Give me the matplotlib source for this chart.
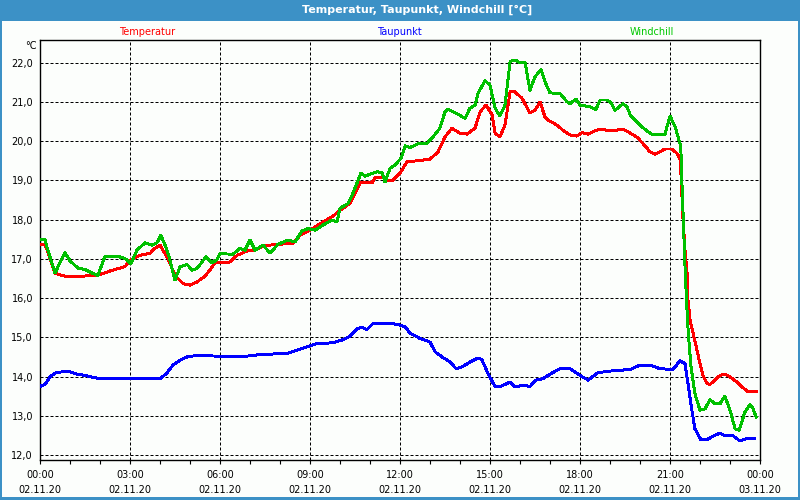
import matplotlib
matplotlib.use('Agg')
import matplotlib.pyplot as plt
from matplotlib.patches import Rectangle
import numpy as np

# hours since 02.11.20 00:00 and values in degC
temp_h = [0.0, 0.17, 0.5, 0.83, 1.17, 1.93, 2.33, 2.83, 3.03, 3.33, 3.67, 3.83, 4.0, 4.27,
          4.5, 4.77, 5.0, 5.23, 5.5, 5.67, 5.83, 6.33, 6.57, 6.9, 7.17, 7.43, 7.83, 8.43,
          8.67, 9.0, 9.43, 9.77, 10.0, 10.33, 10.5, 10.67, 11.07, 11.17, 11.4, 11.6, 11.73,
          12.0, 12.23, 13.0, 13.27, 13.5, 13.73, 14.0, 14.23, 14.5, 14.67, 14.87, 15.07,
          15.17, 15.33, 15.5, 15.67, 15.83, 16.07, 16.33, 16.5, 16.67, 16.83, 16.93, 17.23,
          17.43, 17.67, 17.9, 18.07, 18.27, 18.43, 18.67, 18.9, 19.23, 19.4, 19.6, 19.9,
          20.1, 20.33, 20.5, 20.67, 20.83, 21.07, 21.23, 21.33, 21.37, 21.43, 21.5, 21.57,
          21.6, 21.67, 21.77, 21.9, 22.0, 22.1, 22.23, 22.33, 22.5, 22.67, 22.83, 23.0,
          23.23, 23.43, 23.57, 23.87]
temp = [17.37, 17.37, 16.63, 16.56, 16.55, 16.58, 16.69, 16.80, 16.98, 17.09, 17.14, 17.27,
        17.35, 17.0, 16.58, 16.37, 16.33, 16.41, 16.56, 16.72, 16.9, 16.92, 17.09, 17.2,
        17.22, 17.32, 17.37, 17.39, 17.6, 17.73, 17.94, 18.09, 18.24, 18.41, 18.67, 18.94,
        18.94, 19.08, 19.08, 18.99, 18.99, 19.18, 19.47, 19.54, 19.73, 20.11, 20.33, 20.2,
        20.18, 20.33, 20.75, 20.92, 20.67, 20.2, 20.11, 20.41, 21.26, 21.26, 21.09, 20.72,
        20.79, 21.0, 20.62, 20.54, 20.41, 20.28, 20.16, 20.13, 20.22, 20.18, 20.24, 20.31,
        20.28, 20.28, 20.31, 20.24, 20.1, 19.94, 19.73, 19.67, 19.73, 19.8, 19.8, 19.69,
        19.56, 19.09, 18.07, 17.22, 16.63, 15.95, 15.44, 15.1, 14.67, 14.33, 14.03, 13.82,
        13.8, 13.91, 14.03, 14.06, 13.99, 13.86, 13.72, 13.63, 13.63]

wind_h = [0.0, 0.17, 0.23, 0.5, 0.83, 1.0, 1.27, 1.5, 1.73, 1.93, 2.17, 2.57, 2.83, 3.03,
          3.23, 3.5, 3.73, 3.9, 4.03, 4.17, 4.3, 4.5, 4.67, 4.9, 5.07, 5.23, 5.53, 5.73,
          5.9, 6.0, 6.43, 6.67, 6.83, 7.0, 7.17, 7.43, 7.67, 7.93, 8.27, 8.5, 8.73, 8.93,
          9.17, 9.43, 9.73, 9.9, 10.0, 10.27, 10.43, 10.7, 10.83, 11.23, 11.4, 11.5, 11.67,
          11.83, 12.03, 12.17, 12.33, 12.6, 12.9, 13.1, 13.33, 13.5, 13.6, 13.93, 14.17,
          14.33, 14.5, 14.6, 14.83, 15.0, 15.17, 15.33, 15.5, 15.67, 15.83, 16.0, 16.17,
          16.33, 16.5, 16.7, 16.83, 17.0, 17.33, 17.57, 17.67, 17.87, 18.0, 18.33, 18.53,
          18.67, 18.9, 19.03, 19.17, 19.43, 19.57, 19.67, 19.83, 20.0, 20.17, 20.4, 20.83,
          21.0, 21.17, 21.36, 21.39, 21.44, 21.5, 21.56, 21.61, 21.7, 21.83, 22.0, 22.17,
          22.33, 22.5, 22.67, 22.83, 23.0, 23.17, 23.3, 23.5, 23.67, 23.77, 23.87]
wind = [17.49, 17.49, 17.3, 16.64, 17.16, 16.95, 16.76, 16.73, 16.64, 16.58, 17.07, 17.07,
        17.01, 16.88, 17.22, 17.41, 17.35, 17.41, 17.6, 17.35, 17.05, 16.46, 16.8, 16.86,
        16.71, 16.75, 17.05, 16.9, 16.98, 17.13, 17.12, 17.27, 17.22, 17.48, 17.22, 17.35,
        17.15, 17.37, 17.48, 17.43, 17.71, 17.77, 17.73, 17.86, 17.99, 17.94, 18.29, 18.41,
        18.67, 19.19, 19.11, 19.22, 19.2, 18.96, 19.31, 19.39, 19.56, 19.88, 19.84, 19.93,
        19.94, 20.11, 20.33, 20.75, 20.81, 20.69, 20.58, 20.84, 20.92, 21.22, 21.54, 21.43,
        20.84, 20.64, 20.92, 22.03, 22.07, 22.0, 22.0, 21.3, 21.64, 21.83, 21.52, 21.23,
        21.22, 21.0, 20.96, 21.07, 20.92, 20.88, 20.81, 21.05, 21.05, 20.98, 20.79, 20.95,
        20.88, 20.67, 20.54, 20.41, 20.3, 20.17, 20.17, 20.64, 20.37, 19.86, 19.09, 18.07,
        16.8, 15.78, 15.1, 14.25, 13.57, 13.14, 13.18, 13.41, 13.31, 13.31, 13.5, 13.14,
        12.67, 12.63, 13.1, 13.29, 13.18, 12.97]

dew_h = [0.0, 0.17, 0.33, 0.5, 0.73, 1.0, 1.23, 1.5, 1.83, 2.1, 2.57, 2.9, 3.23, 3.43, 4.0,
         4.23, 4.43, 4.67, 4.9, 5.23, 5.57, 6.67, 7.33, 8.23, 8.57, 8.9, 9.23, 9.77, 10.1,
         10.33, 10.57, 10.73, 10.9, 11.1, 11.77, 12.0, 12.17, 12.33, 12.67, 13.0, 13.17,
         13.4, 13.67, 13.87, 14.1, 14.4, 14.6, 14.73, 14.93, 15.17, 15.33, 15.67, 15.83,
         16.17, 16.33, 16.5, 16.77, 17.07, 17.33, 17.67, 18.0, 18.27, 18.6, 19.0, 19.67,
         20.0, 20.33, 20.67, 21.1, 21.33, 21.5, 21.6, 21.73, 21.83, 22.03, 22.23, 22.43,
         22.67, 22.83, 23.1, 23.33, 23.57, 23.83]
dew = [13.75, 13.8, 13.99, 14.09, 14.12, 14.12, 14.06, 14.03, 13.97, 13.94, 13.96, 13.94,
       13.96, 13.94, 13.94, 14.09, 14.29, 14.42, 14.5, 14.54, 14.53, 14.5, 14.56, 14.59,
       14.67, 14.76, 14.84, 14.86, 14.94, 15.03, 15.22, 15.25, 15.2, 15.35, 15.35, 15.31,
       15.27, 15.11, 14.97, 14.88, 14.63, 14.5, 14.37, 14.2, 14.26, 14.4, 14.47, 14.43,
       14.08, 13.74, 13.74, 13.86, 13.74, 13.78, 13.74, 13.9, 13.95, 14.09, 14.2, 14.2,
       14.03, 13.91, 14.1, 14.14, 14.18, 14.29, 14.29, 14.2, 14.18, 14.4, 14.33, 13.82,
       13.14, 12.67, 12.39, 12.39, 12.48, 12.56, 12.49, 12.49, 12.36, 12.42, 12.43]

x_ticks = [0, 3, 6, 9, 12, 15, 18, 21, 24]
x_labels = ['00:00\n02.11.20', '03:00\n02.11.20', '06:00\n02.11.20', '09:00\n02.11.20',
            '12:00\n02.11.20', '15:00\n02.11.20', '18:00\n02.11.20', '21:00\n02.11.20',
            '00:00\n03.11.20']
y_ticks = [12, 13, 14, 15, 16, 17, 18, 19, 20, 21, 22]

bg = '#fcfefc'
frame = '#3c91c6'

fig = plt.figure(figsize=(8, 5), dpi=100, facecolor=frame)
fig.add_artist(Rectangle((2/800, 3/500), 796/800, 476/500, transform=fig.transFigure,
                         facecolor=bg, edgecolor='none', zorder=0))

fig.text(417/800, 1 - 10/500, 'Temperatur, Taupunkt, Windchill [°C]', color='white',
         weight='bold', ha='center', va='center', fontsize=8)
fig.text(147/800, 1 - 32/500, 'Temperatur', color='#ff0000', ha='center', va='center', fontsize=7)
fig.text(399/800, 1 - 32/500, 'Taupunkt', color='#0000ff', ha='center', va='center', fontsize=7)
fig.text(652/800, 1 - 32/500, 'Windchill', color='#00c800', ha='center', va='center', fontsize=7)
fig.text(31/800, 1 - 46/500, '°C', ha='center', va='center', fontsize=7)

ax = fig.add_axes([40/800, 40/500, 720/800, 420/500])
ax.set_facecolor(bg)

ax.plot(temp_h, temp, color='#ff0000', lw=1.4, antialiased=False, zorder=3)
ax.plot(wind_h, wind, color='#00c000', lw=1.4, antialiased=False, zorder=4)
ax.plot(dew_h, dew, color='#0000ff', lw=1.4, antialiased=False, zorder=3)

ax.set_xlim(0, 24)
ax.set_ylim(11.873, 22.579)

ax.set_xticks(x_ticks)
ax.set_xticklabels(x_labels, fontsize=7, linespacing=1.6)
ax.set_xticks(np.arange(0, 25, 1), minor=True)
ax.set_yticks(y_ticks)
ax.set_yticklabels([f'{v},0' for v in y_ticks], fontsize=7)

ax.tick_params(axis='x', which='both', direction='out', length=3, width=0.8, pad=4)
ax.tick_params(axis='y', length=0, pad=5)

ax.grid(True, which='major', color='black', lw=0.72, linestyle=(0, (3, 2)))
for s in ax.spines.values():
    s.set_color('black')
    s.set_linewidth(1.0)

fig.savefig('out.png', dpi=100, facecolor=frame)
